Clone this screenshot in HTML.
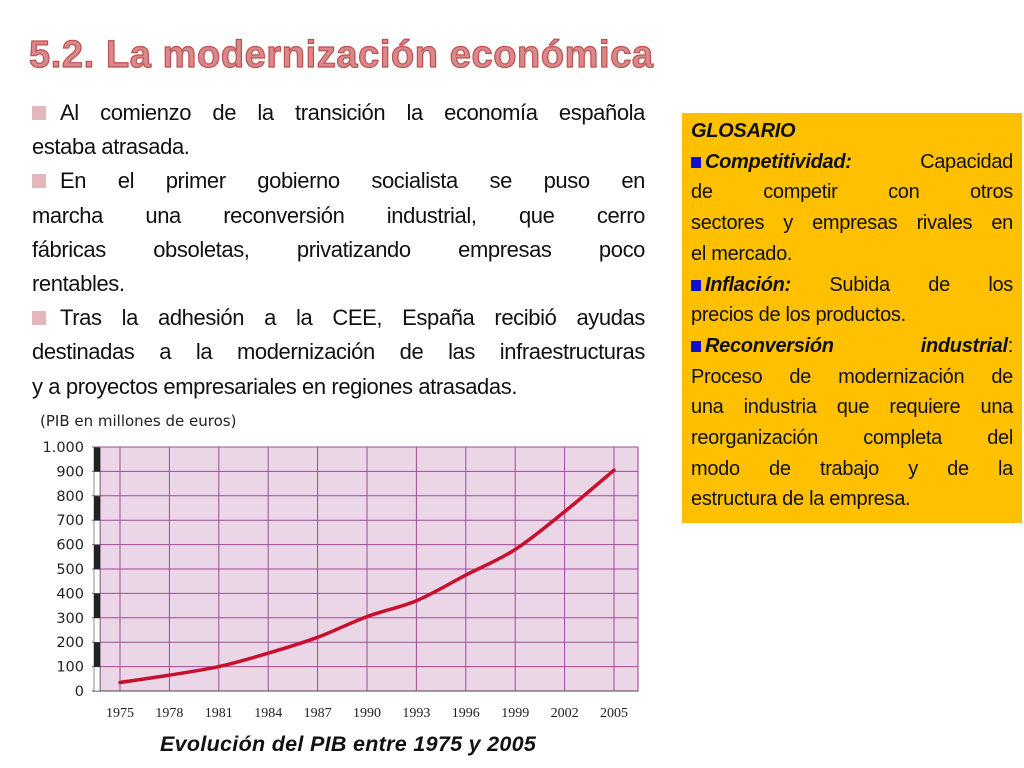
<!DOCTYPE html>
<html><head><meta charset="utf-8"><style>
body{margin:0;width:1024px;height:768px;background:#fff;position:relative;overflow:hidden;font-family:"Liberation Sans",sans-serif}
#title{position:absolute;left:29px;top:34px;font-size:38px;font-weight:bold;letter-spacing:0.6px;color:#d8898c;-webkit-text-stroke:1.2px #c0504d;white-space:nowrap}
.txt{position:absolute;left:32px;width:613px;font-size:22px;letter-spacing:-0.4px;line-height:34.2px;color:#111;top:96px}
.txt div,.g div{white-space:nowrap}
.j{text-align:justify;text-align-last:justify}
.b{display:inline-block;width:14px;height:14px;background:#e3b8bc;margin-right:14px}
.g{position:absolute;left:682px;top:113px;width:322px;height:400px;background:#ffc000;padding:3px 9px 7px 9px;font-size:20px;letter-spacing:-0.3px;line-height:30.7px;color:#111}
.q{display:inline-block;width:10px;height:11px;background:#1010d0;margin-right:4px}
#cap{position:absolute;left:160px;top:732px;font-size:21.5px;letter-spacing:0.3px;font-weight:bold;font-style:italic;color:#111}
</style></head><body>
<div id="title">5.2. La modernización económica</div>
<div class="txt">
<div class="j"><span class="b"></span>Al comienzo de la transición la economía española</div>
<div>estaba atrasada.</div>
<div class="j"><span class="b"></span>En el primer gobierno socialista se puso en</div>
<div class="j">marcha una reconversión industrial, que cerro</div>
<div class="j">fábricas obsoletas, privatizando empresas poco</div>
<div>rentables.</div>
<div class="j"><span class="b"></span>Tras la adhesión a la CEE, España recibió ayudas</div>
<div class="j">destinadas a la modernización de las infraestructuras</div>
<div>y a proyectos empresariales en regiones atrasadas.</div>
</div>
<div class="g">
<div><b><i>GLOSARIO</i></b></div>
<div class="j"><span class="q"></span><b><i>Competitividad:</i></b> Capacidad</div>
<div class="j">de competir con otros</div>
<div class="j">sectores y empresas rivales en</div>
<div>el mercado.</div>
<div class="j"><span class="q"></span><b><i>Inflación:</i></b> Subida de los</div>
<div>precios de los productos.</div>
<div class="j"><span class="q"></span><b><i>Reconversión industrial</i></b>:</div>
<div class="j">Proceso de modernización de</div>
<div class="j">una industria que requiere una</div>
<div class="j">reorganización completa del</div>
<div class="j">modo de trabajo y de la</div>
<div>estructura de la empresa.</div>
</div>
<svg id="chart" width="1024" height="768" style="position:absolute;left:0;top:0"></svg>
<div id="cap">Evolución del PIB entre 1975 y 2005</div>
<script>
const years=[1975,1978,1981,1984,1987,1990,1993,1996,1999,2002,2005];
const gdp=[35,65,100,155,220,305,370,475,580,735,905];
const yTicks=[0,100,200,300,400,500,600,700,800,900,1000];
const yLabels=["0","100","200","300","400","500","600","700","800","900","1.000"];
const NS="http://www.w3.org/2000/svg";
const svg=document.getElementById('chart');
const L=100,R=638,T=447,B=691;
const x=v=>120+(v-1975)/30*494;
const y=v=>B-(v/1000)*(B-T);
function mk(t,a,p){const e=document.createElementNS(NS,t);for(const k in a)e.setAttribute(k,a[k]);(p||svg).appendChild(e);return e;}
const t0=mk('text',{x:40,y:426,'font-size':15,fill:'#222','font-family':'DejaVu Sans, sans-serif'});
t0.textContent='(PIB en millones de euros)';


const bg=mk('rect',{x:L,y:T,width:R-L,height:B-T,fill:'#ead6e6',stroke:'#9b3a8e','stroke-width':1});


yTicks.forEach((v,i)=>{
  const ln=mk('line',{x1:L-8,x2:R,y1:y(v),y2:y(v),stroke:i==0?'#444':'#a04a98','stroke-width':1});
  
  
  const tx=mk('text',{x:84,y:y(v)+5,'text-anchor':'end','font-size':14.5,fill:'#222','font-family':'DejaVu Sans, sans-serif'});
  tx.textContent=yLabels[i];
  
  
  if(i<yTicks.length-1){
    const s=mk('rect',{x:94,y:y(yTicks[i+1]),width:6,height:y(v)-y(yTicks[i+1]),fill:i%2?'#222':'#fff',stroke:'#222','stroke-width':0.5});
    
    
  }
});
years.forEach(yr=>{
  const ln=mk('line',{x1:x(yr),x2:x(yr),y1:T,y2:B,stroke:'#a04a98','stroke-width':1});
  
  
  const tx=mk('text',{x:x(yr),y:717,'text-anchor':'middle','font-size':14,fill:'#222','font-family':'Liberation Serif, serif'});
  tx.textContent=yr;
  
  
});
const pts=years.map((yr,i)=>[x(yr),y(gdp[i])]);
let d='M'+pts[0][0]+','+pts[0][1];
for(let i=1;i<pts.length;i++){
  const p0=pts[Math.max(0,i-2)],p1=pts[i-1],p2=pts[i],p3=pts[Math.min(pts.length-1,i+1)];
  const c1=[p1[0]+(p2[0]-p0[0])/6,p1[1]+(p2[1]-p0[1])/6],c2=[p2[0]-(p3[0]-p1[0])/6,p2[1]-(p3[1]-p1[1])/6];
  d+=' C'+c1+' '+c2+' '+p2;
}
const path=mk('path',{d:d,fill:'none',stroke:'#c8102e','stroke-width':3.5,'stroke-linecap':'round'});


</script>
</body></html>
